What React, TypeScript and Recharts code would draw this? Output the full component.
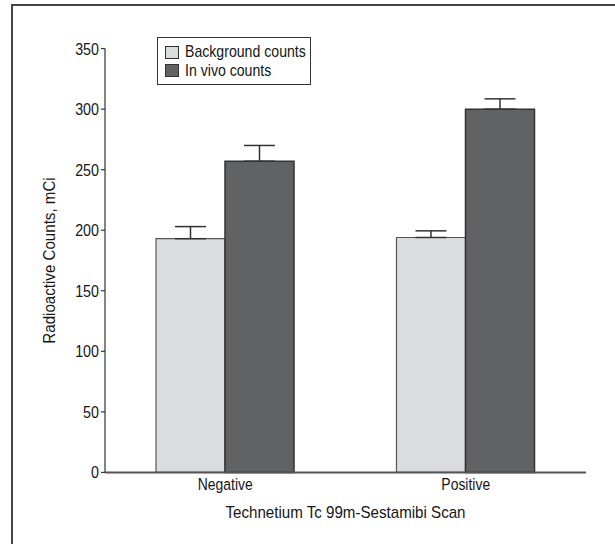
import React from "react";
import { BarChart, Bar, XAxis, YAxis, ErrorBar, Legend, Label } from "recharts";

const scans = ["Negative", "Positive"];
const backgroundCounts = [193, 194];
const backgroundError = [10, 5.5];
const inVivoCounts = [257, 300];
const inVivoError = [13, 8.5];
const yTicks = [0, 50, 100, 150, 200, 250, 300, 350];

const FONT = '"Liberation Sans", Arial, sans-serif';
const INK = "#161616";
const LIGHT = "#dbdcde";
const DARK = "#616264";

const data = scans.map((scan, i) => ({
  scan,
  background: backgroundCounts[i],
  backgroundErr: [0, backgroundError[i]],
  invivo: inVivoCounts[i],
  invivoErr: [0, inVivoError[i]],
}));

// condensed look: Arial squeezed sideways
function YTick({ x, y, payload }: any) {
  return (
    <text
      transform={`translate(${x},${y}) scale(0.84,1)`}
      textAnchor="end"
      dy="0.35em"
      fill={INK}
      fontSize={17}
      fontFamily={FONT}
    >
      {payload.value}
    </text>
  );
}

function XTick({ x, y, payload }: any) {
  return (
    <text
      transform={`translate(${x},${y}) scale(0.82,1)`}
      textAnchor="middle"
      dy={18}
      fill={INK}
      fontSize={17}
      fontFamily={FONT}
    >
      {payload.value}
    </text>
  );
}

function LegendBox({ payload }: any) {
  return (
    <div
      style={{
        border: "1.5px solid #333",
        background: "#fff",
        width: 152,
        height: 46,
        fontFamily: FONT,
        fontSize: 17,
        color: INK,
      }}
    >
      {(payload || []).map((entry: any, i: number) => (
        <div
          key={entry.value}
          style={{
            display: "flex",
            alignItems: "center",
            height: 18.5,
            marginTop: i === 0 ? 5 : 0,
            paddingLeft: 7,
            whiteSpace: "nowrap",
          }}
        >
          <span
            style={{
              width: 12,
              height: 11,
              background: entry.color,
              border: "1px solid #333",
              marginRight: 6,
              display: "inline-block",
              flex: "none",
            }}
          />
          <span style={{ display: "inline-block", transform: "scaleX(0.83)", transformOrigin: "left center" }}>
            {entry.value}
          </span>
        </div>
      ))}
    </div>
  );
}

export default function App() {
  return (
    <div
      style={{
        position: "absolute",
        left: 0,
        top: 0,
        width: 615,
        height: 544,
        overflow: "hidden",
        background: "#fff",
      }}
    >
      <div
        style={{
          position: "absolute",
          left: 11,
          top: 4,
          width: 700,
          height: 700,
          borderLeft: "2px solid #444",
          borderTop: "2px solid #444",
        }}
      />
      <BarChart
        width={615}
        height={544}
        data={data}
        margin={{ top: 48.6, right: 29, bottom: 0, left: 12 }}
        barGap={0}
        barCategoryGap={51}
        style={{ position: "absolute", left: 0, top: 0 }}
      >
        <XAxis
          dataKey="scan"
          height={71.6}
          tickLine={false}
          tickSize={0}
          tickMargin={0}
          axisLine={{ stroke: "#555", strokeWidth: 2 }}
          tick={<XTick />}
        >
          <Label
            content={({ viewBox }: any) => (
              <text
                transform={`translate(${viewBox.x + viewBox.width / 2},518) scale(0.89,1)`}
                textAnchor="middle"
                fill={INK}
                fontSize={17}
                fontFamily={FONT}
              >
                Technetium Tc 99m-Sestamibi Scan
              </text>
            )}
          />
        </XAxis>
        <YAxis
          width={93}
          domain={[0, 350]}
          ticks={yTicks}
          interval={0}
          tickSize={4}
          tickMargin={2}
          axisLine={{ stroke: "#333", strokeWidth: 1.2 }}
          tickLine={{ stroke: "#333", strokeWidth: 1.2 }}
          tick={<YTick />}
        >
          <Label
            content={({ viewBox }: any) => (
              <text
                transform={`translate(49,${viewBox.y + viewBox.height / 2}) rotate(-90) scale(0.89,1)`}
                textAnchor="middle"
                dy="0.35em"
                fill={INK}
                fontSize={17}
                fontFamily={FONT}
              >
                Radioactive Counts, mCi
              </text>
            )}
          />
        </YAxis>
        <Legend
          verticalAlign="middle"
          align="center"
          layout="vertical"
          content={<LegendBox />}
          wrapperStyle={{ position: "absolute", left: 157, top: 37, width: "auto", height: "auto" }}
        />
        <Bar
          dataKey="background"
          name="Background counts"
          fill={LIGHT}
          stroke="#555"
          strokeWidth={1.2}
          isAnimationActive={false}
        >
          <ErrorBar dataKey="backgroundErr" width={15.5} stroke="#333" strokeWidth={1.5} direction="y" />
        </Bar>
        <Bar
          dataKey="invivo"
          name="In vivo counts"
          fill={DARK}
          stroke="#333"
          strokeWidth={1.5}
          isAnimationActive={false}
        >
          <ErrorBar dataKey="invivoErr" width={15.5} stroke="#333" strokeWidth={1.5} direction="y" />
        </Bar>
      </BarChart>
    </div>
  );
}
